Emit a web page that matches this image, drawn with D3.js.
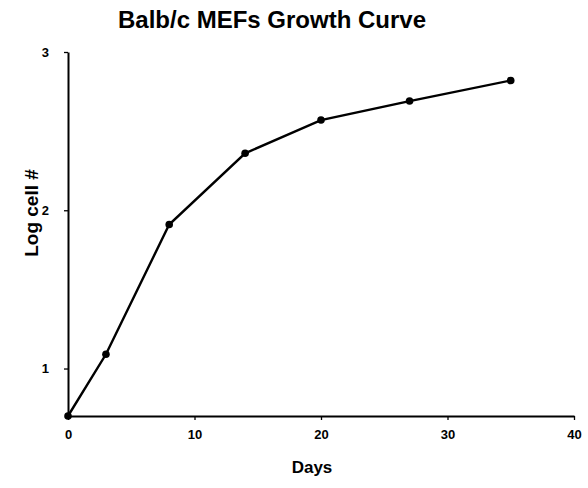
<!DOCTYPE html>
<html>
<head>
<meta charset="utf-8">
<script src="https://cdn.jsdelivr.net/npm/d3@7"></script>
<style>
  html, body { margin: 0; padding: 0; background: #fff; }
  svg { display: block; }
  text { font-family: "Liberation Sans", Arial, sans-serif; fill: #000; }
</style>
</head>
<body>
<svg id="chart" width="588" height="488"></svg>
<script>
const days = [0, 3, 8, 14, 20, 27, 35];
const logCells = [0.7, 1.09, 1.91, 2.36, 2.57, 2.69, 2.82];
const xTicks = [0, 10, 20, 30, 40];
const yTicks = [1, 2, 3];
const title = "Balb/c MEFs Growth Curve";
const xLabel = "Days";
const yLabel = "Log cell #";

const svg = d3.select("#chart");
const x = d3.scaleLinear().domain([0, 40]).range([68, 574]);
const y = d3.scaleLinear().domain([0.7, 3]).range([416, 52]);

svg.append("text")
  .attr("x", 272).attr("y", 28)
  .attr("text-anchor", "middle")
  .attr("font-size", 24).attr("font-weight", "bold")
  .text(title);

const xAxis = svg.append("g")
  .attr("transform", `translate(0,${y(0.7)})`)
  .call(d3.axisBottom(x).tickValues(xTicks).tickFormat(d3.format("d"))
    .tickSize(4).tickSizeOuter(0).tickPadding(10));
const yAxis = svg.append("g")
  .attr("transform", `translate(${x(0)},0)`)
  .call(d3.axisLeft(y).tickValues(yTicks).tickFormat(d3.format("d"))
    .tickSize(4).tickSizeOuter(0).tickPadding(15));

[xAxis, yAxis].forEach(g => {
  g.select(".domain").attr("stroke", "#000").attr("stroke-width", 2);
  g.selectAll(".tick line").attr("stroke", "#000").attr("stroke-width", 1.3);
  g.selectAll(".tick text").attr("font-size", 13).attr("font-weight", "bold").attr("fill", "#000")
    .attr("font-family", "'Liberation Sans Narrow', 'Liberation Sans', Arial, sans-serif");
});

svg.append("text")
  .attr("x", 312).attr("y", 473)
  .attr("text-anchor", "middle")
  .attr("font-size", 17).attr("font-weight", "bold")
  .text(xLabel);

svg.append("text")
  .attr("transform", `translate(38,213) rotate(-90)`)
  .attr("text-anchor", "middle")
  .attr("font-size", 19).attr("font-weight", "bold")
  .text(yLabel);

const pts = days.map((d, i) => [d, logCells[i]]);
svg.append("path")
  .datum(pts)
  .attr("fill", "none").attr("stroke", "#000").attr("stroke-width", 2.4)
  .attr("d", d3.line().x(d => x(d[0])).y(d => y(d[1])));

svg.selectAll("circle.pt")
  .data(pts).enter().append("circle")
  .attr("class", "pt")
  .attr("cx", d => x(d[0])).attr("cy", d => y(d[1]))
  .attr("r", 3.8).attr("fill", "#000");
</script>
</body>
</html>
